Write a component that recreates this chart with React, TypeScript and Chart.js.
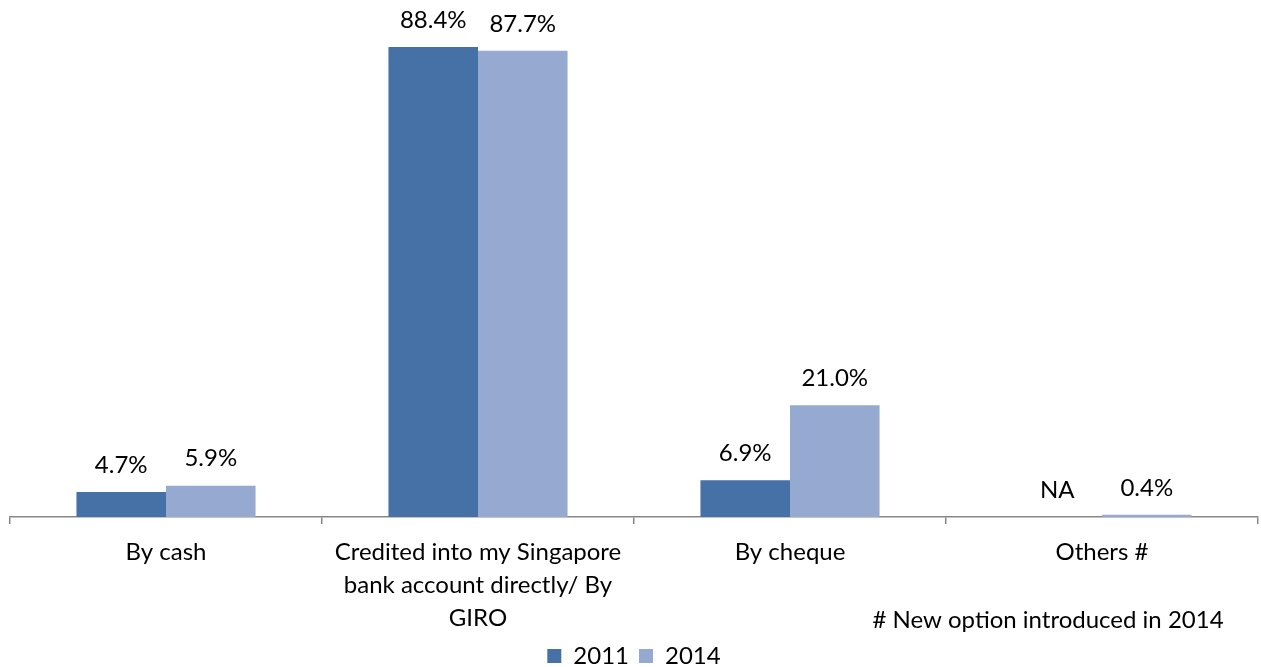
import React, { useEffect, useRef } from "react";
import { Chart, registerables } from "chart.js";

Chart.register(...registerables);

const categories: (string | string[])[] = [
  "By cash",
  ["Credited into my Singapore", "bank account directly/ By", "GIRO"],
  "By cheque",
  "Others #",
];
const seriesNames = ["2011", "2014"];
const values2011: (number | null)[] = [4.7, 88.4, 6.9, null];
const values2014: (number | null)[] = [5.9, 87.7, 21.0, 0.4];
const noteText = "# New option introduced in 2014";
const missingLabel = "NA";

const FONT = "Lato, 'Noto Sans', sans-serif";
const FS = 24;

export default function App() {
  const ref = useRef<HTMLCanvasElement | null>(null);

  useEffect(() => {
    if (!ref.current) return;
    const labelPlugin = {
      id: "labels",
      afterDatasetsDraw(chart: any) {
        const ctx = chart.ctx;
        ctx.save();
        ctx.font = `${FS}px ${FONT}`;
        ctx.fillStyle = "#000";
        ctx.textAlign = "center";
        ctx.textBaseline = "middle";
        chart.data.datasets.forEach((ds: any, di: number) => {
          const meta = chart.getDatasetMeta(di);
          meta.data.forEach((bar: any, i: number) => {
            const v = ds.data[i];
            const yZero = chart.scales.y.getPixelForValue(0);
            const x = bar.x;
            if (v === null || v === undefined) {
              ctx.fillText(missingLabel, x, yZero - 27);
            } else {
              ctx.fillText(v.toFixed(1) + "%", x, bar.y - 27);
            }
          });
        });
        ctx.restore();
      },
      afterDraw(chart: any) {
        const ctx = chart.ctx;
        ctx.save();
        ctx.font = `${FS}px ${FONT}`;
        ctx.fillStyle = "#000";
        ctx.textAlign = "center";
        ctx.textBaseline = "middle";
        ctx.fillText(noteText, 1048, 620);
        ctx.restore();
      },
    };

    const chart = new Chart(ref.current, {
      type: "bar",
      data: {
        labels: categories,
        datasets: [
          {
            label: seriesNames[0],
            data: values2011,
            backgroundColor: "#4571A7",
            categoryPercentage: 0.574,
            barPercentage: 1,
          },
          {
            label: seriesNames[1],
            data: values2014,
            backgroundColor: "#95A9D1",
            categoryPercentage: 0.574,
            barPercentage: 1,
          },
        ],
      },
      options: {
        animation: false,
        responsive: false,
        maintainAspectRatio: false,
        layout: { padding: { top: 12, left: 10, right: 3, bottom: -11 } },
        plugins: {
          tooltip: { enabled: false },
          legend: {
            position: "bottom",
            labels: {
              font: { family: FONT, size: FS },
              color: "#000",
              boxWidth: 14,
              boxHeight: 14,
              padding: 10,
            },
          },
        },
        scales: {
          y: { display: false, min: 0, max: 95 },
          x: {
            offset: true,
            grid: {
              offset: true,
              drawOnChartArea: false,
              drawTicks: true,
              tickLength: 7,
              color: "#878787",
              lineWidth: 1.5,
            },
            border: { color: "#878787", width: 1.5 },
            ticks: {
              color: "#000",
              font: { family: FONT, size: FS, lineHeight: 33 / FS },
              padding: 12,
              maxRotation: 0,
              autoSkip: false,
            },
            afterFit(scale: any) {
              scale.height = 117;
            },
          },
        },
      },
      plugins: [labelPlugin],
    } as any);
    return () => chart.destroy();
  }, []);

  return (
    <div style={{ position: "absolute", left: 0, top: 0, width: 1261, height: 667, background: "#fff" }}>
      <canvas ref={ref} width={1261} height={667} style={{ width: 1261, height: 667 }} />
    </div>
  );
}
